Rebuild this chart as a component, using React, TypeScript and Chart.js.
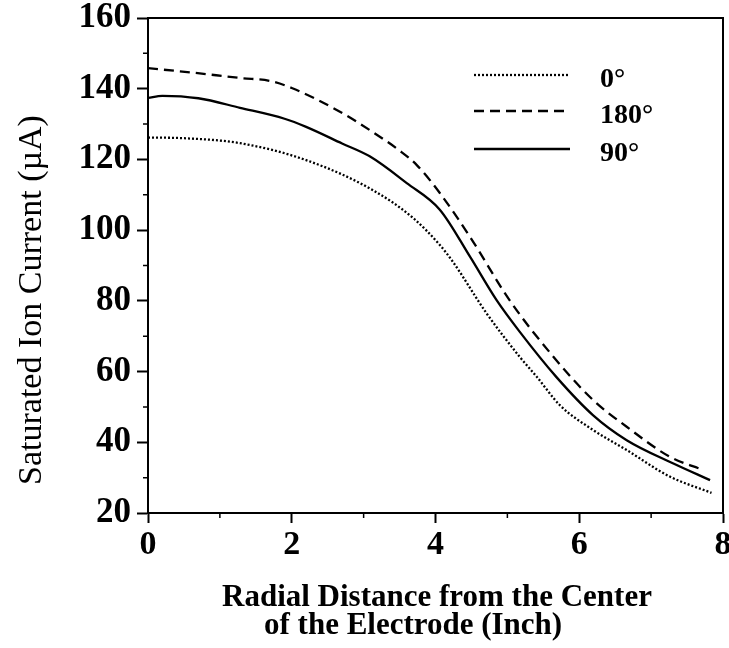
import React, { useEffect, useRef } from "react";
import { Chart, registerables } from "chart.js";

Chart.register(...registerables);

// ---- Data ----
const seriesLabels = ["0°", "180°", "90°"];

const deg0X = [0, 0.5, 1.28, 2.2, 3.13, 3.69, 4.06, 4.24, 4.71, 5.17, 5.41, 5.73, 6.19, 6.66, 7.26, 7.84];
const deg0Y = [126.2, 126.0, 124.6, 119.8, 111.3, 103.4, 95.8, 91.1, 76.5, 64.2, 58.5, 50.5, 43.5, 37.8, 30.3, 25.7];

const deg180X = [0, 0.6, 1.3, 1.7, 2.0, 2.67, 3.13, 3.5, 3.74, 4.06, 4.48, 5.03, 5.64, 6.19, 6.66, 7.26, 7.72];
const deg180Y = [145.8, 144.6, 143.0, 142.2, 140.2, 133.5, 127.7, 122.5, 118.4, 110.5, 98.1, 80.2, 64.2, 52, 44.4, 35.9, 32.2];

const deg90X = [0, 0.2, 0.7, 1.28, 1.9, 2.2, 2.7, 3.09, 3.6, 4.06, 4.48, 4.85, 5.17, 5.68, 6.19, 6.66, 7.31, 7.82];
const deg90Y = [137.4, 138, 137.3, 134.6, 131.5, 129.2, 124.5, 120.8, 113.3, 105.8, 92.5, 80.2, 71.3, 58.5, 47.7, 40.6, 34, 29.3];

const xMin = 0;
const xMax = 8;
const xMajorStep = 2;
const xMinorTicks = [1, 3, 5, 7];
const yMin = 20;
const yMax = 160;
const yMajorStep = 20;
const yMinorTicks = [30, 50, 70, 90, 110, 130, 150];

const xTitleLines = ["Radial Distance from the Center", "of the Electrode (Inch)"];
const yTitle = "Saturated Ion Current (\u00B5A)";

const FONT = "'Liberation Serif', 'Times New Roman', serif";

const zip = (xs: number[], ys: number[]) => xs.map((x, i) => ({ x, y: ys[i] }));

const decorPlugin = {
  id: "decor",
  afterDatasetsDraw(chart: any) {
    const { ctx, chartArea } = chart;
    const xs = chart.scales.x;
    const ys = chart.scales.y;
    ctx.save();
    ctx.strokeStyle = "#000";
    ctx.lineWidth = 2;
    ctx.strokeRect(chartArea.left, chartArea.top, chartArea.right - chartArea.left, chartArea.bottom - chartArea.top);
    ctx.lineWidth = 1.5;
    ctx.beginPath();
    xMinorTicks.forEach((v) => {
      const px = xs.getPixelForValue(v);
      ctx.moveTo(px, chartArea.bottom);
      ctx.lineTo(px, chartArea.bottom + 5);
    });
    yMinorTicks.forEach((v) => {
      const py = ys.getPixelForValue(v);
      ctx.moveTo(chartArea.left, py);
      ctx.lineTo(chartArea.left - 5, py);
    });
    ctx.stroke();
    ctx.restore();
  },
  afterDraw(chart: any) {
    const { ctx } = chart;
    ctx.save();
    ctx.fillStyle = "#000";
    const lx0 = 474;
    const lx1 = 570;
    const rows = [75, 111, 149];
    chart.data.datasets.forEach((ds: any, i: number) => {
      const y = rows[i];
      ctx.save();
      ctx.strokeStyle = "#000";
      ctx.lineWidth = ds.borderWidth;
      ctx.setLineDash(ds.borderDash || []);
      ctx.beginPath();
      ctx.moveTo(lx0, y);
      ctx.lineTo(lx1, y);
      ctx.stroke();
      ctx.restore();
      ctx.font = `bold 28px ${FONT}`;
      ctx.textAlign = "left";
      ctx.textBaseline = "middle";
      ctx.fillText(ds.label, 600, y + 5);
    });
    ctx.font = `bold 31px ${FONT}`;
    ctx.textBaseline = "alphabetic";
    ctx.textAlign = "left";
    ctx.fillText(xTitleLines[0], 222, 606);
    ctx.fillText(xTitleLines[1], 264, 634);
    ctx.save();
    ctx.translate(41, 300);
    ctx.rotate(-Math.PI / 2);
    ctx.font = `34px ${FONT}`;
    ctx.textAlign = "center";
    ctx.textBaseline = "alphabetic";
    ctx.fillText(yTitle, 0, 0);
    ctx.restore();
    ctx.restore();
  },
};

export default function App() {
  const ref = useRef<HTMLCanvasElement | null>(null);
  useEffect(() => {
    if (!ref.current) return;
    const common = {
      borderColor: "#000",
      pointRadius: 0,
      cubicInterpolationMode: "monotone",
      fill: false,
    };
    const chart = new Chart(ref.current, {
      type: "line",
      data: {
        datasets: [
          { ...common, label: seriesLabels[0], data: zip(deg0X, deg0Y), borderWidth: 2.3, borderDash: [2, 2] },
          { ...common, label: seriesLabels[1], data: zip(deg180X, deg180Y), borderWidth: 2.3, borderDash: [10, 6] },
          { ...common, label: seriesLabels[2], data: zip(deg90X, deg90Y), borderWidth: 2.3 },
        ],
      },
      options: {
        responsive: false,
        animation: false,
        layout: { padding: { top: 18, right: 6, left: 0, bottom: 0 } },
        plugins: { legend: { display: false }, tooltip: { enabled: false } },
        scales: {
          x: {
            type: "linear",
            min: xMin,
            max: xMax,
            ticks: {
              stepSize: xMajorStep,
              color: "#000",
              padding: 2,
              maxRotation: 0,
              font: { family: FONT, size: 34, weight: "bold" },
            },
            grid: {
              display: true,
              drawOnChartArea: false,
              drawTicks: true,
              tickLength: 10,
              tickColor: "#000",
              tickWidth: 2,
            },
            border: { display: true, color: "#000", width: 2 },
            afterFit(s: any) {
              s.height = 135;
              s.paddingLeft = 0;
              s.paddingRight = 0;
            },
          },
          y: {
            type: "linear",
            min: yMin,
            max: yMax,
            ticks: {
              stepSize: yMajorStep,
              color: "#000",
              padding: 6,
              font: { family: FONT, size: 35, weight: "bold" },
            },
            grid: {
              display: true,
              drawOnChartArea: false,
              drawTicks: true,
              tickLength: 11,
              tickColor: "#000",
              tickWidth: 2,
            },
            border: { display: true, color: "#000", width: 2 },
            afterFit(s: any) {
              s.width = 148;
              s.paddingTop = 0;
              s.paddingBottom = 0;
            },
          },
        },
      },
      plugins: [decorPlugin],
    } as any);
    return () => chart.destroy();
  }, []);
  return (
    <div style={{ position: "fixed", left: 0, top: 0, width: 729, height: 648, background: "#fff" }}>
      <canvas ref={ref} width={729} height={648} style={{ display: "block" }} />
    </div>
  );
}
